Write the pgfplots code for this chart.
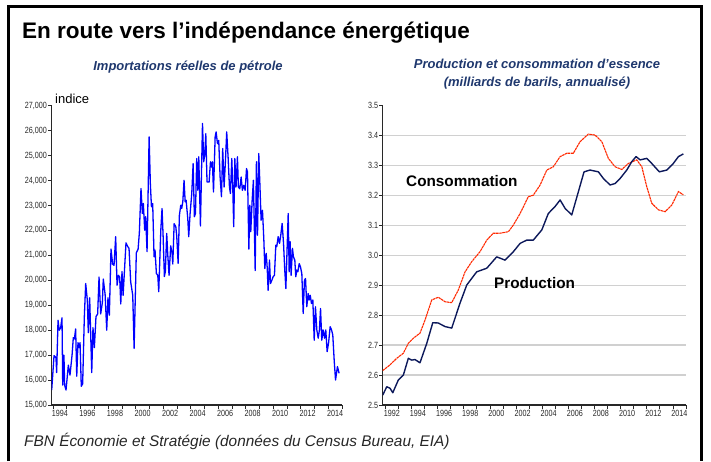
\documentclass[border=0pt]{standalone}
\usepackage{fontspec}
\setmainfont{Liberation Sans}
\newfontfamily\narrowfont[FakeStretch=0.8]{Liberation Sans}
\usepackage{pgfplots}
\pgfplotsset{compat=1.18}
\definecolor{subblue}{RGB}{31,56,110}
\definecolor{impblue}{RGB}{0,0,255}
\definecolor{consred}{RGB}{255,40,0}
\definecolor{prodnavy}{RGB}{12,24,90}
\definecolor{gridgray}{RGB}{208,208,208}
\definecolor{axgray}{RGB}{40,40,40}

\pgfplotstableread{
year val
1993.90 15600
1994.07 16980
1994.21 16900
1994.26 16300
1994.36 18400
1994.45 18000
1994.55 18100
1994.65 18500
1994.70 15800
1994.79 17000
1994.84 15800
1994.94 15600
1995.11 16600
1995.23 16200
1995.38 17000
1995.47 17700
1995.55 17650
1995.64 18050
1995.72 16150
1995.81 17500
1995.89 17300
1995.96 17500
1996.05 15750
1996.15 15850
1996.27 18500
1996.37 19870
1996.49 19200
1996.56 17900
1996.66 19300
1996.81 16300
1996.90 18100
1997.00 17300
1997.12 18550
1997.24 18650
1997.34 20130
1997.46 18650
1997.58 19100
1997.65 20050
1997.78 19450
1997.90 18000
1997.99 19300
1998.09 18600
1998.21 21250
1998.33 20650
1998.43 20600
1998.55 21750
1998.65 19800
1998.75 20200
1998.84 20130
1998.92 19050
1999.01 20350
1999.09 19400
1999.30 21500
1999.43 21350
1999.52 21280
1999.64 19940
1999.79 19400
1999.89 17270
2000.05 21100
2000.18 21250
2000.27 21900
2000.39 23680
2000.49 22680
2000.56 23080
2000.66 22010
2000.73 22550
2000.83 21150
2000.98 25750
2001.07 23880
2001.15 22950
2001.24 23080
2001.34 20940
2001.41 21210
2001.51 20270
2001.61 20200
2001.68 19540
2001.83 22010
2001.92 22880
2002.00 21750
2002.09 20150
2002.16 20350
2002.26 21880
2002.33 21080
2002.43 20200
2002.55 21380
2002.65 21080
2002.70 20650
2002.80 22270
2002.92 22150
2002.99 21750
2003.09 20680
2003.18 22600
2003.28 23010
2003.35 22880
2003.43 23150
2003.52 24010
2003.60 23150
2003.67 23210
2003.79 22480
2003.86 21750
2003.96 22680
2004.08 23480
2004.18 24680
2004.27 22550
2004.35 22680
2004.44 24880
2004.52 23610
2004.59 24950
2004.71 22180
2004.86 26290
2004.95 24750
2005.03 25080
2005.10 25880
2005.19 23940
2005.34 23940
2005.44 24750
2005.51 24540
2005.58 24750
2005.66 23540
2005.78 25750
2005.85 25950
2005.95 25480
2006.04 25610
2006.14 24140
2006.24 23350
2006.33 25280
2006.43 23740
2006.53 24810
2006.62 25950
2006.72 24950
2006.82 23740
2006.89 23480
2006.99 24880
2007.06 23740
2007.13 22150
2007.21 24880
2007.30 23740
2007.40 24950
2007.47 23740
2007.57 23670
2007.67 24140
2007.76 23610
2007.86 23810
2007.96 23610
2008.06 24480
2008.13 24340
2008.23 21250
2008.30 23010
2008.37 21950
2008.47 23210
2008.56 24010
2008.69 20390
2008.78 24750
2008.86 21810
2008.95 25080
2009.03 23880
2009.12 22410
2009.22 22810
2009.32 21610
2009.39 20470
2009.49 21080
2009.56 20540
2009.63 19600
2009.73 20810
2009.80 19870
2009.90 20000
2009.99 20140
2010.09 20200
2010.19 21410
2010.26 21350
2010.36 21750
2010.46 21480
2010.55 21810
2010.65 22280
2010.75 21480
2010.84 20410
2010.92 19670
2011.01 21280
2011.09 22680
2011.16 20340
2011.23 21550
2011.30 20200
2011.40 21280
2011.47 20940
2011.57 20810
2011.64 20140
2011.72 20410
2011.79 20340
2011.89 20670
2011.98 20540
2012.08 20270
2012.18 18670
2012.27 20000
2012.35 20070
2012.44 18940
2012.54 19470
2012.61 19210
2012.69 19400
2012.78 19070
2012.88 19210
2012.98 17600
2013.07 18940
2013.17 18010
2013.27 17680
2013.36 18010
2013.44 18870
2013.53 17600
2013.63 18010
2013.73 17680
2013.82 18010
2013.92 17140
2014.02 17470
2014.14 18140
2014.24 18010
2014.33 17810
2014.43 16810
2014.53 16000
2014.60 16270
2014.67 16540
2014.79 16270
}\imports

\pgfplotstableread{
year val
1991.80 2.615
1992.36 2.634
1992.87 2.656
1993.38 2.673
1993.76 2.706
1994.14 2.723
1994.65 2.740
1995.04 2.784
1995.55 2.851
1996.05 2.860
1996.57 2.845
1997.08 2.842
1997.58 2.884
1998.10 2.945
1998.61 2.979
1999.24 3.012
1999.76 3.051
2000.26 3.074
2000.77 3.074
2001.41 3.079
2001.79 3.101
2002.31 3.140
2002.94 3.196
2003.32 3.201
2003.84 3.235
2004.35 3.285
2004.85 3.296
2005.37 3.330
2005.88 3.341
2006.38 3.341
2006.90 3.380
2007.53 3.405
2008.04 3.402
2008.56 3.380
2009.06 3.324
2009.57 3.296
2010.09 3.287
2010.59 3.307
2011.23 3.319
2011.62 3.296
2012.00 3.229
2012.38 3.174
2012.89 3.152
2013.40 3.146
2013.91 3.168
2014.42 3.213
2014.80 3.202
}\consumption

\pgfplotstableread{
year val
1991.80 2.533
1992.11 2.561
1992.36 2.556
1992.57 2.541
1993.00 2.584
1993.38 2.600
1993.76 2.656
1994.02 2.650
1994.27 2.652
1994.65 2.641
1995.17 2.706
1995.63 2.775
1996.05 2.774
1996.57 2.762
1997.08 2.757
1997.71 2.840
1998.23 2.901
1998.99 2.945
1999.76 2.957
2000.52 2.995
2001.16 2.984
2001.79 3.012
2002.31 3.040
2002.82 3.051
2003.32 3.051
2003.97 3.085
2004.47 3.140
2004.98 3.163
2005.37 3.185
2005.75 3.157
2006.26 3.135
2006.77 3.213
2007.20 3.279
2007.66 3.285
2008.30 3.279
2008.68 3.257
2009.19 3.235
2009.57 3.240
2009.96 3.257
2010.47 3.285
2010.85 3.313
2011.18 3.330
2011.49 3.319
2012.00 3.324
2012.38 3.307
2012.96 3.279
2013.53 3.285
2014.03 3.307
2014.42 3.330
2014.80 3.339
}\production

\pgfplotsset{
  panel/.style={
    scale only axis,
    axis lines=left,
    axis line style={-, line width=1.1pt, color=axgray},
    tick align=outside,
    major tick length=3.5pt,
    tick style={line width=0.7pt, color=axgray},
    tick label style={font=\narrowfont\fontsize{9}{10}\selectfont, text=axgray},
    /pgf/number format/assume math mode=true,
    yticklabel style={inner sep=1pt},
    xticklabel style={inner sep=2pt},
  }
}

\begin{document}
\begin{tikzpicture}
\useasboundingbox (0pt,0pt) rectangle (711pt,-461pt);
\draw[line width=3pt, black] (8.5pt,-461pt) -- (8.5pt,-6pt) -- (701.5pt,-6pt) -- (701.5pt,-461pt);

\node[anchor=base west, inner sep=0pt, font=\fontsize{22.5}{27}\selectfont\bfseries] at (22pt,-38pt) {En route vers l’indépendance énergétique};

\node[anchor=base, inner sep=0pt, text=subblue, font=\fontsize{13}{16}\selectfont\bfseries\itshape] at (188pt,-70pt) {Importations réelles de pétrole};
\node[anchor=base, inner sep=0pt, text=subblue, font=\fontsize{13}{16}\selectfont\bfseries\itshape] at (537pt,-68pt) {Production et consommation d’essence};
\node[anchor=base, inner sep=0pt, text=subblue, font=\fontsize{13}{16}\selectfont\bfseries\itshape] at (537pt,-86pt) {(milliards de barils, annualisé)};

\node[anchor=base west, inner sep=0pt, font=\fontsize{13}{15}\selectfont] at (55pt,-103pt) {indice};

\node[anchor=base west, inner sep=0pt, font=\fontsize{15.4}{18}\selectfont\itshape, text=black!85] at (24pt,-446pt) {FBN Économie et Stratégie (données du Census Bureau, EIA)};

\begin{axis}[panel,
  at={(51.7pt,-405pt)}, anchor=south west,
  width=290.3pt, height=299.3pt,
  xmin=1993.9, xmax=2015, ymin=15000, ymax=27000,
  xtick={1994,...,2015},
  xticklabels={1994,,1996,,1998,,2000,,2002,,2004,,2006,,2008,,2010,,2012,,2014,},
  xticklabel style={xshift=6.9pt},
  ytick={15000,16000,...,27000},
  scaled y ticks=false,
  yticklabel style={/pgf/number format/.cd,1000 sep={,}},
]
\addplot[impblue, line width=1.3pt, line join=round] table[x=year,y=val] {\imports};
\end{axis}

\begin{axis}[panel,
  at={(382.7pt,-405pt)}, anchor=south west,
  width=303.3pt, height=299.3pt,
  xmin=1991.8, xmax=2015, ymin=2.5, ymax=3.5,
  xtick={1992,...,2015},
  xticklabels={1992,,1994,,1996,,1998,,2000,,2002,,2004,,2006,,2008,,2010,,2012,,2014,},
  xticklabel style={xshift=6.5pt},
  ytick={2.5,2.6,...,3.5},
  yticklabel style={/pgf/number format/.cd,fixed,fixed zerofill,precision=1},
  extra y ticks={2.6,2.7,2.8,2.9,3.0,3.1,3.2,3.3,3.4},
  extra y tick labels={},
  extra y tick style={grid=major, major tick length=0pt},
  major grid style={gridgray, line width=1.4pt},
]
\addplot[consred, line width=1.1pt, dash pattern=on 2.5pt off 0.6pt] table[x=year,y=val] {\consumption};
\addplot[prodnavy, line width=1.4pt, line join=round] table[x=year,y=val] {\production};
\end{axis}

\node[anchor=base west, inner sep=0pt, font=\fontsize{15.3}{18}\selectfont\bfseries] at (406pt,-186pt) {Consommation};
\node[anchor=base west, inner sep=0pt, font=\fontsize{15.3}{18}\selectfont\bfseries] at (494pt,-288pt) {Production};
\end{tikzpicture}
\end{document}
